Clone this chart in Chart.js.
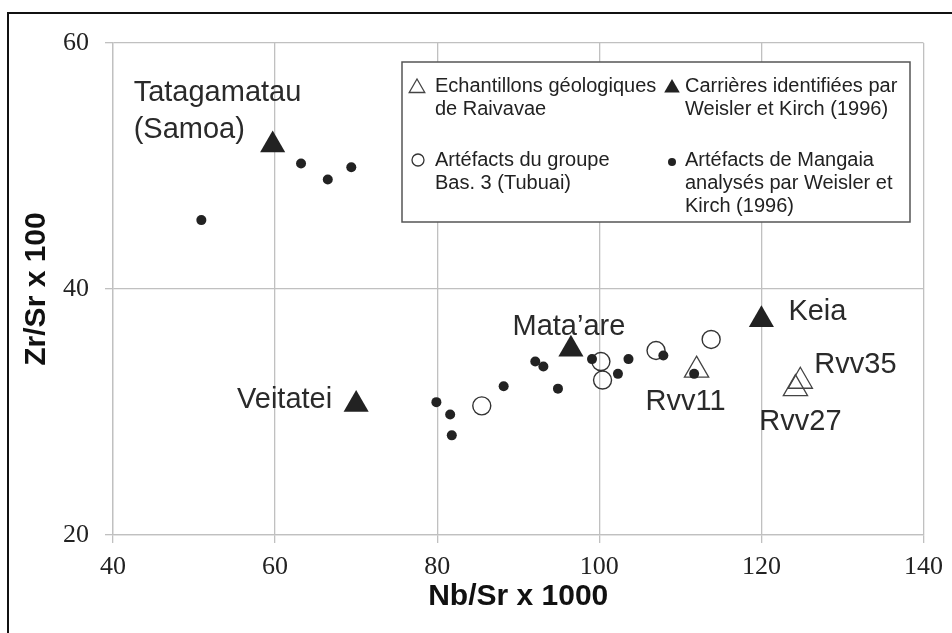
<!DOCTYPE html>
<html lang="fr">
<head>
<meta charset="utf-8">
<title>Zr/Sr vs Nb/Sr</title>
<script src="https://cdn.jsdelivr.net/npm/chart.js@4.4.1/dist/chart.umd.min.js"></script>
<style>
  html, body { margin: 0; padding: 0; background: #fff; overflow: hidden; }
  #frame {
    position: absolute; left: 7px; top: 12px;
    width: 980px; height: 700px;
    border: 2px solid #111; box-sizing: border-box;
  }
  #wrap { position: absolute; left: 0; top: 0; width: 952px; height: 633px; }
</style>
</head>
<body>
<div id="frame"></div>
<div id="wrap"><canvas id="chart"></canvas></div>
<script>
// Axis ticks
const xTicks = [40, 60, 80, 100, 120, 140];
const yTicks = [20, 40, 60];

// Echantillons géologiques de Raivavae (Rvv11, Rvv35, Rvv27)
const geoNb = [112.0, 124.8, 124.2];
const geoZr = [33.4, 32.5, 31.9];
const geoNames = ["Rvv11", "Rvv35", "Rvv27"];

// Carrières identifiées par Weisler et Kirch (1996)
const quarryNb = [59.7, 70.0, 96.5, 120.0];
const quarryZr = [51.7, 30.6, 35.1, 37.5];
const quarryNames = ["Tatagamatau\n(Samoa)", "Veitatei", "Mata\u2019are", "Keia"];

// Artéfacts du groupe Bas. 3 (Tubuai)
const tubuaiNb = [85.5, 100.2, 100.4, 107.0, 113.8];
const tubuaiZr = [30.5, 34.1, 32.6, 35.0, 35.9];

// Artéfacts de Mangaia (Weisler et Kirch 1996)
const mangaiaNb = [50.9, 63.2, 66.5, 69.4, 79.9, 81.6, 81.8, 88.2, 92.1, 93.1, 94.9, 99.1, 102.3, 103.6, 107.9, 111.7];
const mangaiaZr = [45.6, 50.2, 48.9, 49.9, 30.8, 29.8, 28.1, 32.1, 34.1, 33.7, 31.9, 34.3, 33.1, 34.3, 34.6, 33.1];

const INK = "#222";
const GRID = "#c0c0c0";

function toPoints(xs, ys) {
  return xs.map((x, i) => ({ x: x, y: ys[i] }));
}

// text offsets for the named samples, in pixels from the marker
const nameOffsets = {
  "Tatagamatau\n(Samoa)": { dx: -139, dy: -52, align: "left", gap: 37 },
  "Veitatei": { dx: -24, dy: -5, align: "right" },
  "Mata\u2019are": { dx: -2, dy: -22, align: "center" },
  "Keia": { dx: 27, dy: -8, align: "left" },
  "Rvv11": { dx: -11, dy: 32, align: "center" },
  "Rvv35": { dx: 14, dy: -16, align: "left" },
  "Rvv27": { dx: 5, dy: 33, align: "center" }
};

function drawTriangle(ctx, x, y, r, filled) {
  ctx.beginPath();
  for (let k = 0; k < 3; k++) {
    const a = k * 2 * Math.PI / 3;
    const px = x + Math.sin(a) * r;
    const py = y - Math.cos(a) * r;
    if (k === 0) ctx.moveTo(px, py); else ctx.lineTo(px, py);
  }
  ctx.closePath();
  if (filled) { ctx.fillStyle = INK; ctx.fill(); }
  else { ctx.strokeStyle = "#444"; ctx.lineWidth = 1.3; ctx.stroke(); }
}

function drawCircle(ctx, x, y, r, filled) {
  ctx.beginPath();
  ctx.arc(x, y, r, 0, Math.PI * 2);
  if (filled) { ctx.fillStyle = INK; ctx.fill(); }
  else { ctx.strokeStyle = "#333"; ctx.lineWidth = 1.3; ctx.stroke(); }
}

// sample names next to the markers
const sampleLabels = {
  id: "sampleLabels",
  afterDatasetsDraw(chart) {
    const ctx = chart.ctx;
    const xs = chart.scales.x;
    const ys = chart.scales.y;
    const named = [
      ...quarryNames.map((n, i) => ({ n, x: quarryNb[i], y: quarryZr[i] })),
      ...geoNames.map((n, i) => ({ n, x: geoNb[i], y: geoZr[i] }))
    ];
    ctx.save();
    ctx.font = "29px 'Liberation Sans', Arial, sans-serif";
    ctx.fillStyle = "#2a2a2a";
    ctx.textBaseline = "middle";
    named.forEach(p => {
      const off = nameOffsets[p.n];
      const px = xs.getPixelForValue(p.x) + off.dx;
      const py = ys.getPixelForValue(p.y) + off.dy;
      ctx.textAlign = off.align;
      p.n.split("\n").forEach((line, k) => {
        ctx.fillText(line, px, py + k * (off.gap || 0));
      });
    });
    ctx.restore();
  }
};

// boxed legend with two columns of wrapped entries
const boxLegend = {
  id: "boxLegend",
  afterDraw(chart) {
    const ctx = chart.ctx;
    const box = { left: 402, top: 62, right: 910, bottom: 222 };
    ctx.save();
    ctx.fillStyle = "#fff";
    ctx.fillRect(box.left, box.top, box.right - box.left, box.bottom - box.top);
    ctx.strokeStyle = "#555";
    ctx.lineWidth = 1.5;
    ctx.strokeRect(box.left, box.top, box.right - box.left, box.bottom - box.top);

    const entries = [
      { draw: (x, y) => drawTriangle(ctx, x, y + 2, 9, false), sx: 417, sy: 86, tx: 435, ty: 86,
        lines: ["Echantillons géologiques", "de Raivavae"] },
      { draw: (x, y) => drawTriangle(ctx, x, y + 2, 9, true), sx: 672, sy: 86, tx: 685, ty: 86,
        lines: ["Carrières identifiées par", "Weisler et Kirch (1996)"] },
      { draw: (x, y) => drawCircle(ctx, x, y, 6, false), sx: 418, sy: 160, tx: 435, ty: 160,
        lines: ["Artéfacts du groupe", "Bas. 3 (Tubuai)"] },
      { draw: (x, y) => drawCircle(ctx, x, y, 4, true), sx: 672, sy: 162, tx: 685, ty: 160,
        lines: ["Artéfacts de Mangaia", "analysés par Weisler et", "Kirch (1996)"] }
    ];
    ctx.font = "20px 'Liberation Sans', Arial, sans-serif";
    ctx.textAlign = "left";
    ctx.textBaseline = "middle";
    entries.forEach(e => {
      e.draw(e.sx, e.sy);
      ctx.fillStyle = "#222";
      e.lines.forEach((line, k) => ctx.fillText(line, e.tx, e.ty + k * 23));
    });
    ctx.restore();
  }
};

const tickFont = { family: "'Liberation Serif', 'Times New Roman', serif", size: 26 };
const titleFont = { family: "'Liberation Sans', Arial, sans-serif", size: 30, weight: "bold" };

new Chart(document.getElementById("chart"), {
  type: "scatter",
  data: {
    datasets: [
      {
        label: "Artéfacts du groupe Bas. 3 (Tubuai)",
        data: toPoints(tubuaiNb, tubuaiZr),
        pointStyle: "circle",
        pointRadius: 9,
        backgroundColor: "rgba(255,255,255,0)",
        borderColor: "#333",
        borderWidth: 1.4,
        order: 4
      },
      {
        label: "Echantillons géologiques de Raivavae",
        data: toPoints(geoNb, geoZr),
        pointStyle: "triangle",
        pointRadius: 14,
        backgroundColor: "rgba(255,255,255,0)",
        borderColor: "#444",
        borderWidth: 1.3,
        order: 3
      },
      {
        label: "Carrières identifiées par Weisler et Kirch (1996)",
        data: toPoints(quarryNb, quarryZr),
        pointStyle: "triangle",
        pointRadius: 14.5,
        backgroundColor: INK,
        borderColor: INK,
        borderWidth: 0,
        order: 2
      },
      {
        label: "Artéfacts de Mangaia analysés par Weisler et Kirch (1996)",
        data: toPoints(mangaiaNb, mangaiaZr),
        pointStyle: "circle",
        pointRadius: 5,
        backgroundColor: INK,
        borderColor: INK,
        borderWidth: 0,
        order: 1
      }
    ]
  },
  options: {
    responsive: true,
    maintainAspectRatio: false,
    animation: false,
    events: [],
    layout: { padding: { left: 10, right: 25, top: 43, bottom: 0 } },
    plugins: {
      legend: { display: false },
      tooltip: { enabled: false }
    },
    scales: {
      x: {
        type: "linear",
        min: xTicks[0],
        max: xTicks[xTicks.length - 1],
        afterBuildTicks: axis => { axis.ticks = xTicks.map(v => ({ value: v })); },
        afterFit: axis => { axis.height = 98; },
        grid: { color: GRID, lineWidth: 1.3, tickLength: 8, tickColor: GRID },
        border: { color: GRID, width: 1.3 },
        ticks: { font: tickFont, color: INK, padding: 9, maxRotation: 0 },
        title: { display: true, text: "Nb/Sr x 1000", font: titleFont, color: "#111", padding: { top: 0, bottom: 18 } }
      },
      y: {
        type: "linear",
        min: yTicks[0],
        max: yTicks[yTicks.length - 1],
        afterBuildTicks: axis => { axis.ticks = yTicks.map(v => ({ value: v })); },
        afterFit: axis => { axis.width = 103; },
        grid: { color: GRID, lineWidth: 1.3, tickLength: 8, tickColor: GRID },
        border: { color: GRID, width: 1.3 },
        ticks: { font: tickFont, color: INK, padding: 16 },
        title: { display: true, text: "Zr/Sr x 100", font: titleFont, color: "#111", padding: { top: 9, bottom: 0 } }
      }
    }
  },
  plugins: [sampleLabels, boxLegend]
});
</script>
</body>
</html>
